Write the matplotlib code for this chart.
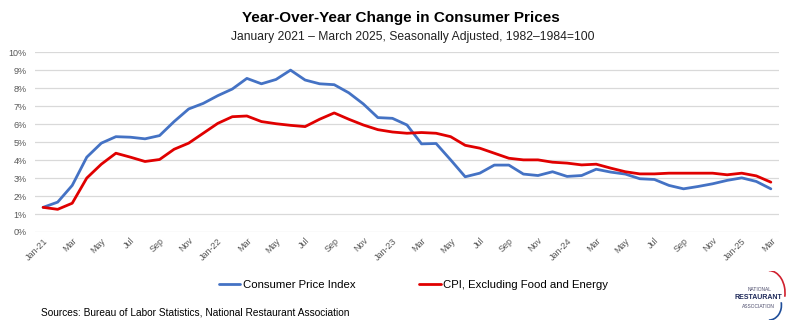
import numpy as np
import matplotlib
matplotlib.use("Agg")
import matplotlib.pyplot as plt
from matplotlib.patches import Arc

plt.rcParams["font.family"] = ["Liberation Sans", "DejaVu Sans"]

# monthly year-over-year % change, Jan 2021 .. Mar 2025
months = ["Jan-21", "Feb", "Mar", "Apr", "May", "Jun", "Jul", "Aug", "Sep", "Oct", "Nov", "Dec",
          "Jan-22", "Feb", "Mar", "Apr", "May", "Jun", "Jul", "Aug", "Sep", "Oct", "Nov", "Dec",
          "Jan-23", "Feb", "Mar", "Apr", "May", "Jun", "Jul", "Aug", "Sep", "Oct", "Nov", "Dec",
          "Jan-24", "Feb", "Mar", "Apr", "May", "Jun", "Jul", "Aug", "Sep", "Oct", "Nov", "Dec",
          "Jan-25", "Feb", "Mar"]
cpi = [1.37, 1.66, 2.59, 4.16, 4.94, 5.30, 5.27, 5.18, 5.36, 6.14, 6.84, 7.15,
       7.58, 7.95, 8.54, 8.24, 8.48, 9.00, 8.45, 8.24, 8.19, 7.74, 7.12, 6.36,
       6.32, 5.95, 4.90, 4.92, 4.01, 3.07, 3.27, 3.72, 3.72, 3.22, 3.14, 3.35,
       3.09, 3.14, 3.49, 3.33, 3.22, 2.96, 2.92, 2.59, 2.40, 2.53, 2.68, 2.87,
       3.01, 2.81, 2.40]
core = [1.37, 1.26, 1.60, 3.00, 3.77, 4.38, 4.16, 3.92, 4.03, 4.60, 4.94, 5.49,
        6.04, 6.41, 6.45, 6.14, 6.02, 5.93, 5.86, 6.27, 6.62, 6.27, 5.95, 5.69,
        5.56, 5.49, 5.53, 5.49, 5.30, 4.82, 4.66, 4.38, 4.10, 4.01, 4.01, 3.88,
        3.83, 3.73, 3.77, 3.55, 3.35, 3.23, 3.23, 3.27, 3.27, 3.27, 3.27, 3.18,
        3.27, 3.12, 2.77]

BLUE = "#4472C4"
RED = "#E00000"
GREY = "#595959"

fig = plt.figure(figsize=(7.98, 3.30), dpi=100)
ax = fig.add_axes([0.044, 0.297, 0.932, 0.545])

x = np.arange(len(months))
ax.plot(x, cpi, color=BLUE, lw=2.0, label="Consumer Price Index", solid_capstyle="round")
ax.plot(x, core, color=RED, lw=2.0, label="CPI, Excluding Food and Energy", solid_capstyle="round")

ax.set_xlim(-0.55, len(months) - 0.45)
ax.set_ylim(0, 10)
ax.set_yticks(range(0, 11))
ax.set_yticklabels([f"{v}%" for v in range(0, 11)], fontsize=6.5, color=GREY)
ax.set_xticks(x[::2])
ax.set_xticklabels(months[::2], rotation=45, fontsize=6.5, color=GREY,
                   ha="right", rotation_mode="anchor")
ax.tick_params(axis="y", length=0, pad=6)
ax.tick_params(axis="x", length=0, pad=3)
ax.grid(axis="y", color="#D9D9D9", lw=0.9)
ax.set_axisbelow(True)
for s in ax.spines.values():
    s.set_visible(False)

fig.text(0.502, 0.945, "Year-Over-Year Change in Consumer Prices", ha="center",
         va="center", fontsize=11, fontweight="bold", color="black")
fig.text(0.517, 0.888, "January 2021 \u2013 March 2025, Seasonally Adjusted, 1982\u20131984=100",
         ha="center", va="center", fontsize=8.7, color="#222222")

fig.legend(loc="center", bbox_to_anchor=(0.518, 0.137), ncol=2, frameon=False,
           fontsize=8.2, handlelength=1.9, handletextpad=0.2, columnspacing=5.6)

fig.text(0.052, 0.052, "Sources: Bureau of Labor Statistics, National Restaurant Association",
         ha="left", va="center", fontsize=7.3, color="black")

# association mark, bottom right
fig.text(0.952, 0.122, "NATIONAL", ha="center", va="center", fontsize=3.5, color="#4A4A6A")
fig.text(0.950, 0.097, "RESTAURANT", ha="center", va="center", fontsize=5, fontweight="bold", color="#1F2A5A")
fig.text(0.950, 0.072, "ASSOCIATION", ha="center", va="center", fontsize=3.5, color="#4A4A6A")
lax = fig.add_axes([0.95, 0.03, 0.045, 0.15])
lax.set_xlim(0, 1); lax.set_ylim(0, 1); lax.axis("off")
lax.add_patch(Arc((0.3, 0.55), 0.9, 0.9, theta1=-10, theta2=90, color="#D0202E", lw=1.2))
lax.add_patch(Arc((0.3, 0.3), 0.7, 0.6, theta1=-90, theta2=10, color="#1F4E9A", lw=1.2))

fig.savefig("out.png", dpi=100)
